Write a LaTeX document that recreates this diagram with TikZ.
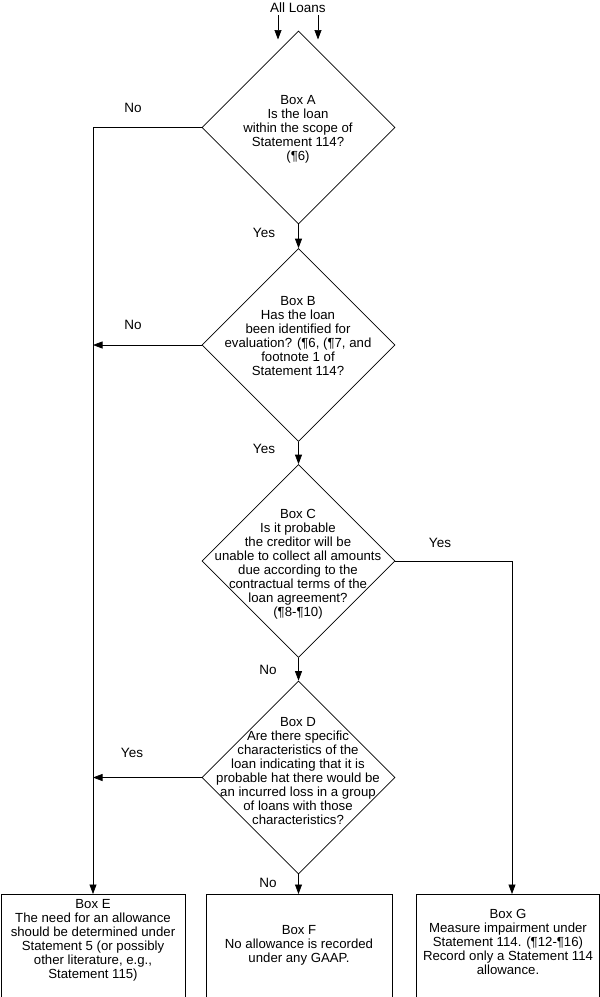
\documentclass[tikz,border=0pt]{standalone}
\usepackage{fontspec}
\setmainfont{Liberation Sans}
\usetikzlibrary{arrows.meta,shapes.geometric}
\begin{document}
\begin{tikzpicture}[x=1pt,y=-1pt,
  txt/.style={font=\fontsize{13.2}{14}\selectfont, align=center, inner sep=0pt},
  lbl/.style={font=\fontsize{13.5}{14}\selectfont, inner sep=0pt},
  decision/.style={draw, diamond, inner sep=0pt, minimum width=193pt, minimum height=193pt, line width=0.7pt},
  outbox/.style={draw, rectangle, anchor=north, inner sep=0pt, minimum height=160pt, line width=0.7pt},
  link/.style={line width=0.7pt, -{Triangle[length=9.5pt,width=7pt]}},
  plain/.style={line width=0.7pt}]
\useasboundingbox (0,0) rectangle (600,997);
\clip (0,0) rectangle (600,997);

% start
\node[lbl] (all) at (298,7.5) {All Loans};
\coordinate (s1) at (278,15);
\coordinate (e1) at (278,39.5);
\coordinate (s2) at (318,15);
\coordinate (e2) at (318,39.5);
\draw[link] (s1) -- (e1);
\draw[link] (s2) -- (e2);

% decisions
\node[decision] (A) at (298.5,127.5) {};
\node[decision] (B) at (298.5,345) {};
\node[decision] (C) at (298.5,561) {};
\node[decision] (D) at (298.5,777.5) {};

\node[txt] (At) at (298,129) {Box A\\Is the loan\\within the scope of\\Statement 114?\\(¶6)};
\node[txt] (Bt) at (298,336) {Box B\\Has the loan\\been identified for\\evaluation? (¶6, (¶7, and\\footnote 1 of\\Statement 114?};
\node[txt] (Ct) at (298,564.5) {Box C\\Is it probable\\the creditor will be\\unable to collect all amounts\\due according to the\\contractual terms of the\\loan agreement?\\(¶8-¶10)};
\node[txt] (Dt) at (298,771) {Box D\\Are there specific\\characteristics of the\\loan indicating that it is\\probable hat there would be\\an incurred loss in a group\\of loans with those\\characteristics?};

% outcome boxes
\node[outbox, minimum width=184pt] (E) at (93,894) {};
\node[outbox, minimum width=186pt] (F) at (299,894) {};
\node[outbox, minimum width=183pt] (G) at (507.5,894) {};
\coordinate (gin) at (512,894);

\node[txt] (Et) at (93,940) {Box E\\The need for an allowance\\should be determined under\\Statement 5 (or possibly\\other literature, e.g.,\\Statement 115)};
\node[txt] (Ft) at (299,945) {Box F\\No allowance is recorded\\under any GAAP.};
\node[txt] (Gt) at (508,942) {Box G\\Measure impairment under\\Statement 114. (¶12-¶16)\\Record only a Statement 114\\allowance.};

% connectors
\draw[link] (A.west) -- (A.west -| E.north) -- (E.north);
\draw[link] (A.south) -- (B.north);
\draw[link] (B.west) -- (B.west -| E.north);
\draw[link] (B.south) -- (C.north);
\draw[link] (C.south) -- (D.north);
\draw[link] (C.east) -| (gin);
\draw[link] (D.west) -- (D.west -| E.north);
\draw[link] (D.south) -- (D.south |- F.north);

% labels
\node[lbl] (noA) at (133,108) {No};
\node[lbl] (yesA) at (264,233) {Yes};
\node[lbl] (noB) at (133,325) {No};
\node[lbl] (yesB) at (264,449) {Yes};
\node[lbl] (yesC) at (440,543) {Yes};
\node[lbl] (noC) at (268,670) {No};
\node[lbl] (yesD) at (132,753) {Yes};
\node[lbl] (noD) at (268,883) {No};
\end{tikzpicture}
\end{document}
